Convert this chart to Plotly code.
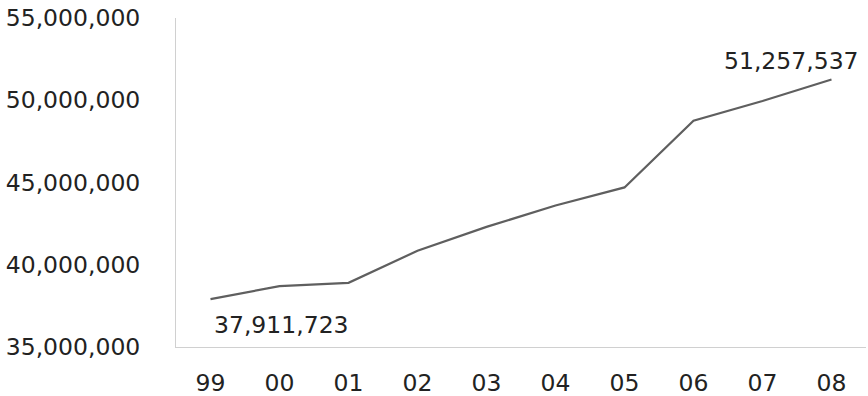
import plotly.graph_objects as go

# Yearly totals, 1999-2008
years = ["99", "00", "01", "02", "03", "04", "05", "06", "07", "08"]
totals = [37911723, 38700000, 38900000, 40850000, 42300000, 43600000,
          44700000, 48750000, 49950000, 51257537]
y_ticks = [35000000, 40000000, 45000000, 50000000, 55000000]

font = dict(family="DejaVu Sans, Verdana, sans-serif", size=23.5, color="#222222")

fig = go.Figure()
fig.add_trace(go.Scatter(
    x=years, y=totals, mode="lines",
    line=dict(color="#5f5f5f", width=2.2),
    hoverinfo="skip", showlegend=False,
))

# Value labels at the first and last points (category axis: x is the index)
first, last = 0, len(years) - 1
fig.add_annotation(x=first, y=totals[first], text=f"{totals[first]:,}",
                   showarrow=False, xanchor="left", yanchor="top",
                   xshift=1, yshift=-10, font=font)
fig.add_annotation(x=last, y=totals[last], text=f"{totals[last]:,}",
                   showarrow=False, xanchor="right", yanchor="bottom",
                   xshift=29, yshift=3, font=font)

fig.update_layout(
    width=868, height=396,
    margin=dict(l=176, r=2, t=18, b=49, autoexpand=False),
    paper_bgcolor="white", plot_bgcolor="white",
    font=font,
    xaxis=dict(
        type="category", range=[-0.5, len(years) - 0.5],
        showgrid=False, zeroline=False, automargin=False,
        showline=True, linecolor="#d0d0d0", linewidth=1,
        ticks="", ticklabelstandoff=15,
    ),
    yaxis=dict(
        range=[y_ticks[0], y_ticks[-1]], tickvals=y_ticks,
        ticktext=[f"{v:,}" for v in y_ticks],
        showgrid=False, zeroline=False, automargin=False,
        showline=True, linecolor="#d0d0d0", linewidth=1,
        ticks="", ticklabelstandoff=30,
    ),
)

fig.write_html("out.html")
